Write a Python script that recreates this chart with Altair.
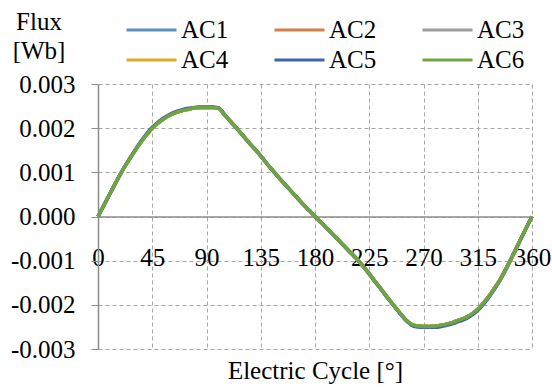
import altair as alt
import pandas as pd

# ---- data ----
angles = list(range(0, 361, 5))

flux_common = [
    0.0, 0.00026, 0.00052, 0.00078, 0.00103, 0.00125, 0.00146, 0.00166, 0.00184, 0.00200,
    0.00212, 0.00222, 0.00230, 0.00236, 0.00240, 0.00243, 0.00246, 0.00247, 0.00247, 0.00247,
    0.00245, 0.00230, 0.00215, 0.00200, 0.00184, 0.00168, 0.00153, 0.00137, 0.00120, 0.00104,
    0.00088, 0.00073, 0.00058, 0.00043, 0.00028, 0.00014, 0.0, -0.00013, -0.00027, -0.00041,
    -0.00055, -0.00069, -0.00083, -0.00097, -0.00113, -0.00130, -0.00148, -0.00165, -0.00183, -0.00200,
    -0.00217, -0.00233, -0.00244, -0.00248, -0.00249, -0.00249, -0.00248, -0.00246, -0.00243, -0.00239,
    -0.00234, -0.00229, -0.00221, -0.00210, -0.00195, -0.00178, -0.00158, -0.00136, -0.00110, -0.00083,
    -0.00055, -0.00027, 0.0,
]

flux_ac5 = [
    0.0, 0.00026, 0.00052, 0.00078, 0.00103, 0.00126, 0.00147, 0.00168, 0.00186, 0.00202,
    0.00214, 0.00224, 0.00232, 0.00238, 0.00242, 0.00245, 0.00247, 0.00248, 0.00248, 0.00248,
    0.00246, 0.00231, 0.00215, 0.00200, 0.00184, 0.00168, 0.00153, 0.00137, 0.00120, 0.00104,
    0.00088, 0.00073, 0.00058, 0.00043, 0.00028, 0.00014, 0.0, -0.00013, -0.00027, -0.00041,
    -0.00055, -0.00069, -0.00083, -0.00097, -0.00113, -0.00130, -0.00148, -0.00166, -0.00184, -0.00201,
    -0.00218, -0.00234, -0.00246, -0.00250, -0.00251, -0.00251, -0.00251, -0.00249, -0.00246, -0.00242,
    -0.00237, -0.00232, -0.00224, -0.00213, -0.00198, -0.00180, -0.00160, -0.00137, -0.00111, -0.00083,
    -0.00055, -0.00027, 0.0,
]

series_names = ["AC1", "AC2", "AC3", "AC4", "AC5", "AC6"]
series_values = [flux_common, flux_common, flux_common, flux_common, flux_ac5, flux_common]
series_colors = ["#5B8FBF", "#D2804A", "#9C9C9C", "#DDAA22", "#3F63B0", "#6EA346"]

x_ticks = [0, 45, 90, 135, 180, 225, 270, 315, 360]
y_ticks = [-0.003, -0.002, -0.001, 0.0, 0.001, 0.002, 0.003]

rows = []
for name, vals in zip(series_names, series_values):
    for a, v in zip(angles, vals):
        rows.append({"angle": a, "flux": v, "series": name})
df = pd.DataFrame(rows)

FONT = "Liberation Serif, Times New Roman, serif"
PLOT_W = 434
PLOT_H = 265

chart = (
    alt.Chart(df)
    .mark_line(strokeWidth=3.5, interpolate="monotone")
    .encode(
        x=alt.X(
            "angle:Q",
            scale=alt.Scale(domain=[0, 360], nice=False, zero=False),
            axis=alt.Axis(
                values=x_ticks,
                offset=-PLOT_H / 2,
                ticks=False,
                labelPadding=49,
                labelBaseline="alphabetic",
                labelFlush=False,
                labelOverlap=False,
                labelFont=FONT,
                labelFontSize=25,
                labelColor="black",
                grid=True,
                gridDash=[4, 3],
                gridColor="#A6A6A6",
                gridWidth=1,
                domainColor="#8C8C8C",
                domainWidth=1.5,
                title="Electric Cycle [°]",
                titleFont=FONT,
                titleFontSize=25,
                titleFontWeight="normal",
                titleColor="black",
                titleBaseline="alphabetic",
                titleY=162,
            ),
        ),
        y=alt.Y(
            "flux:Q",
            scale=alt.Scale(domain=[-0.003, 0.003], nice=False, zero=False),
            axis=alt.Axis(
                values=y_ticks,
                labelExpr="(datum.value < -1e-9 ? '-' : '') + format(abs(datum.value), '.3f')",
                tickSize=7,
                tickColor="#8C8C8C",
                labelPadding=16,
                labelFlush=False,
                labelOverlap=False,
                labelFont=FONT,
                labelFontSize=25,
                labelColor="black",
                grid=True,
                gridDash=[4, 3],
                gridColor="#A6A6A6",
                gridWidth=1,
                domainColor="#8C8C8C",
                domainWidth=1.5,
                title=["Flux", "[Wb]"],
                titleFont=FONT,
                titleFontSize=25,
                titleFontWeight="normal",
                titleColor="black",
                titleAngle=0,
                titleAlign="center",
                titleBaseline="alphabetic",
                titleX=-59.5,
                titleY=-55,
                titleLineHeight=29,
            ),
        ),
        color=alt.Color(
            "series:N",
            scale=alt.Scale(domain=series_names, range=series_colors),
            legend=alt.Legend(
                title=None,
                orient="none",
                direction="horizontal",
                legendX=27,
                legendY=-64,
                columns=3,
                symbolType="stroke",
                symbolSize=2500,
                symbolStrokeWidth=3,
                clipHeight=20,
                labelFont=FONT,
                labelFontSize=25,
                labelColor="black",
                labelOffset=3,
                labelBaseline="middle",
                columnPadding=44,
                rowPadding=5,
                padding=0,
            ),
        ),
    )
    .properties(
        width=PLOT_W,
        height=PLOT_H,
        padding={"left": 98, "top": 84, "right": 20, "bottom": 38},
        autosize=alt.AutoSizeParams(type="none"),
        background="white",
    )
    .configure_view(stroke=None)
)

chart.save("out.html", embed_options={"renderer": "svg", "actions": False})
